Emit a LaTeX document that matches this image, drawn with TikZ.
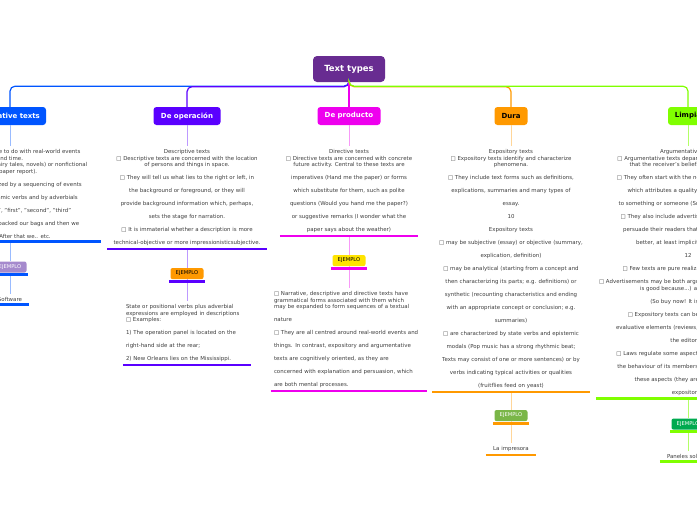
\documentclass[tikz,border=0pt]{standalone}
\usepackage{fontspec}
\setmainfont{DejaVu Sans}
\usetikzlibrary{positioning}
\usepackage{xcolor}
\definecolor{rootcol}{RGB}{104,44,145}
\definecolor{narcol}{RGB}{0,85,255}
\definecolor{opecol}{RGB}{90,0,255}
\definecolor{procol}{RGB}{238,0,238}
\definecolor{durcol}{RGB}{255,153,0}
\definecolor{limcol}{RGB}{128,255,0}
\definecolor{txtcol}{RGB}{60,60,60}
\definecolor{ejlav}{RGB}{165,138,205}
\definecolor{ejyellow}{RGB}{255,228,0}
\definecolor{ejgreen}{RGB}{122,182,72}
\definecolor{ejdkgreen}{RGB}{0,170,80}
\newcommand{\lgap}{\\[6.5pt]}
\tikzset{
  rootbox/.style = {fill=rootcol,rounded corners=4pt,minimum width=72pt,
                    minimum height=26pt,text=white,
                    font=\fontsize{8.5}{10}\selectfont\bfseries},
  topic/.style   = {rounded corners=3pt,minimum height=18pt,inner sep=0pt,
                    font=\fontsize{7}{8}\selectfont\bfseries},
  body/.style    = {align=center,inner xsep=0pt,inner ysep=3pt,text=txtcol,
                    font=\fontsize{5.45}{6.5}\selectfont},
  leftbody/.style= {body,align=left,inner xsep=3pt},
  smallbody/.style={body,inner xsep=7pt},
  ejbox/.style   = {rounded corners=2pt,minimum width=33pt,minimum height=11pt,
                    inner sep=0pt,font=\fontsize{5.2}{6}\selectfont},
  link/.style    = {line width=1.2pt,rounded corners=5pt},
  stem/.style    = {line width=1pt},
  uline/.style   = {line width=2.6pt},
}

\begin{document}
\begin{tikzpicture}[x=1pt,y=-1pt]
  \useasboundingbox (0,0) rectangle (697,520);
  \clip (0,0) rectangle (697,520);

  % root and main topics
  \node[rootbox] (root) at (349,69) {Text types};
  \node[topic,fill=narcol,text=white,minimum width=72pt] (nar) at (10,116) {Narrative texts};
  \node[topic,fill=opecol,text=white,minimum width=67pt] (ope) at (187,116) {De operación};
  \node[topic,fill=procol,text=white,minimum width=63pt] (pro) at (349,116) {De producto};
  \node[topic,fill=durcol,text=black,minimum width=33pt] (dur) at (511,116) {Dura};
  \node[topic,fill=limcol,text=black,minimum width=40pt] (lim) at (688,116) {Limpia};

  \draw[link,draw=narcol] (root.south) -- ++(0,4) -| (nar.north);
  \draw[link,draw=opecol] (root.south) -- ++(0,4.5) -| (ope.north);
  \draw[link,draw=procol] (root.south) -- (pro.north);
  \draw[link,draw=durcol] (root.south) -- ++(0,4.5) -| (dur.north);
  \draw[link,draw=limcol] (root.south) -- ++(0,4) -| (lim.north);

  % narrative
  \node[body,minimum width=182pt,below=21pt of nar] (narT)
    {□ Narrative texts have to do with real-world events\\
     and time.\\
     They may be fictional (fairy tales, novels) or nonfictional\\
     (newspaper report).\lgap
     □ They are characterized by a sequencing of events\lgap
     □ expressed by dynamic verbs and by adverbials\lgap
     such as "and then", "first", "second", "third"\lgap
     □ Example: First we packed our bags and then we\lgap
     left home. After that we.. etc.};
  \node[ejbox,fill=ejlav,text=white,below=20pt of narT] (narE) {EJEMPLO};
  \node[smallbody,below=21pt of narE] (narX) {Software};
  \draw[stem,draw=narcol!40] (nar) -- (narT);
  \draw[stem,draw=narcol!40] (narT) -- (narE);
  \draw[stem,draw=narcol!40] (narE) -- (narX);
  \draw[uline,draw=narcol] (narT.south west) -- (narT.south east);
  \draw[uline,draw=narcol] ([shift={(-1,2)}]narE.south west) -- ([shift={(1,2)}]narE.south east);
  \draw[uline,draw=narcol] (narX.south west) -- (narX.south east);

  % operacion
  \node[body,minimum width=159pt,below=21pt of ope] (opeT)
    {Descriptive texts\\
     □ Descriptive texts are concerned with the location\\
     of persons and things in space.\lgap
     □ They will tell us what lies to the right or left, in\lgap
     the background or foreground, or they will\lgap
     provide background information which, perhaps,\lgap
     sets the stage for narration.\lgap
     □ It is immaterial whether a description is more\lgap
     technical-objective or more impressionisticsubjective.};
  \node[ejbox,fill=durcol,text=black,below=19pt of opeT] (opeE) {EJEMPLO};
  \node[leftbody,text width=122pt,below=22pt of opeE] (opeX)
    { State or positional verbs plus adverbial\\
     expressions are employed in descriptions\\
     □ Examples:\lgap
     1) The operation panel is located on the\lgap
     right-hand side at the rear;\lgap
     2) New Orleans lies on the Mississippi.};
  \draw[stem,draw=opecol!40] (ope) -- (opeT);
  \draw[stem,draw=opecol!40] (opeT) -- (opeE);
  \draw[stem,draw=opecol!40] (opeE) -- (opeX);
  \draw[uline,draw=opecol] (opeT.south west) -- (opeT.south east);
  \draw[uline,draw=opecol] ([shift={(-1,2)}]opeE.south west) -- ([shift={(1,2)}]opeE.south east);
  \draw[uline,draw=opecol] (opeX.south west) -- (opeX.south east);

  % producto
  \node[body,minimum width=138pt,below=21pt of pro] (proT)
    {Directive texts\\
     □ Directive texts are concerned with concrete\\
     future activity. Central to these texts are\lgap
     imperatives (Hand me the paper) or forms\lgap
     which substitute for them, such as polite\lgap
     questions (Would you hand me the paper?)\lgap
     or suggestive remarks (I wonder what the\lgap
     paper says about the weather)};
  \node[ejbox,fill=ejyellow,text=black,below=19pt of proT] (proE) {EJEMPLO};
  \node[leftbody,text width=150pt,below=22pt of proE] (proX)
    {□ Narrative, descriptive and directive texts have\\
     grammatical forms associated with them which\\
     may be expanded to form sequences of a textual\lgap
     nature\lgap
     □ They are all centred around real-world events and\lgap
     things. In contrast, expository and argumentative\lgap
     texts are cognitively oriented, as they are\lgap
     concerned with explanation and persuasion, which\lgap
     are both mental processes.};
  \draw[stem,draw=procol!40] (pro) -- (proT);
  \draw[stem,draw=procol!40] (proT) -- (proE);
  \draw[stem,draw=procol!40] (proE) -- (proX);
  \draw[uline,draw=procol] (proT.south west) -- (proT.south east);
  \draw[uline,draw=procol] ([shift={(-1,2)}]proE.south west) -- ([shift={(1,2)}]proE.south east);
  \draw[uline,draw=procol] (proX.south west) -- (proX.south east);

  % dura
  \node[body,minimum width=157pt,below=21pt of dur] (durT)
    {Expository texts\\
     □ Expository texts identify and characterize\\
     phenomena.\lgap
     □ They include text forms such as definitions,\lgap
     explications, summaries and many types of\lgap
     essay.\lgap
     10\lgap
     Expository texts\lgap
     □ may be subjective (essay) or objective (summary,\lgap
     explication, definition)\lgap
     □ may be analytical (starting from a concept and\lgap
     then characterizing its parts; e.g. definitions) or\lgap
     synthetic (recounting characteristics and ending\lgap
     with an appropriate concept or conclusion; e.g.\lgap
     summaries)\lgap
     □ are characterized by state verbs and epistemic\lgap
     modals (Pop music has a strong rhythmic beat;\lgap
     Texts may consist of one or more sentences) or by\lgap
     verbs indicating typical activities or qualities\lgap
     (fruitflies feed on yeast)};
  \node[ejbox,fill=ejgreen,text=white,below=18pt of durT] (durE) {EJEMPLO};
  \node[smallbody,below=22pt of durE] (durX) {La impresora};
  \draw[stem,draw=durcol!40] (dur) -- (durT);
  \draw[stem,draw=durcol!40] (durT) -- (durE);
  \draw[stem,draw=durcol!40] (durE) -- (durX);
  \draw[uline,draw=durcol] (durT.south west) -- (durT.south east);
  \draw[uline,draw=durcol] ([shift={(-1,2)}]durE.south west) -- ([shift={(1,2)}]durE.south east);
  \draw[uline,draw=durcol] (durX.south west) -- (durX.south east);

  % limpia
  \node[body,minimum width=184pt,below=21pt of lim] (limT)
    {Argumentative texts\\
     □ Argumentative texts depart from the assumption\\
     that the receiver's beliefs can be changed.\lgap
     □ They often start with the negation of a statement\lgap
     which attributes a quality or a characteristic\lgap
     to something or someone (Smoking is not healthy)\lgap
     □ They also include advertisements, which try to\lgap
     persuade their readers that a certain product is\lgap
     better, at least implicitly, than others.\lgap
     12\lgap
     □ Few texts are pure realizations of a text type.\lgap
     □ Advertisements may be both argumentative and expository (X\\
     is good because...) and descriptive\lgap
     (So buy now! It is cheaper.)\lgap
     □ Expository texts can be interspersed with\lgap
     evaluative elements (reviews, commentaries, e.g. in\lgap
     the editorial)\lgap
     □ Laws regulate some aspects of a society and thus\lgap
     the behaviour of its members; they concern exactly\lgap
     these aspects (they are instructive and\lgap
     expository).};
  \node[ejbox,fill=ejdkgreen,text=white,below=20pt of limT] (limE) {EJEMPLO};
  \node[smallbody,below=21pt of limE] (limX) {Paneles solares};
  \draw[stem,draw=limcol!60] (lim) -- (limT);
  \draw[stem,draw=limcol!60] (limT) -- (limE);
  \draw[stem,draw=limcol!60] (limE) -- (limX);
  \draw[uline,draw=limcol] (limT.south west) -- (limT.south east);
  \draw[uline,draw=limcol] ([shift={(-1,2)}]limE.south west) -- ([shift={(1,2)}]limE.south east);
  \draw[uline,draw=limcol] (limX.south west) -- (limX.south east);
\end{tikzpicture}
\end{document}
